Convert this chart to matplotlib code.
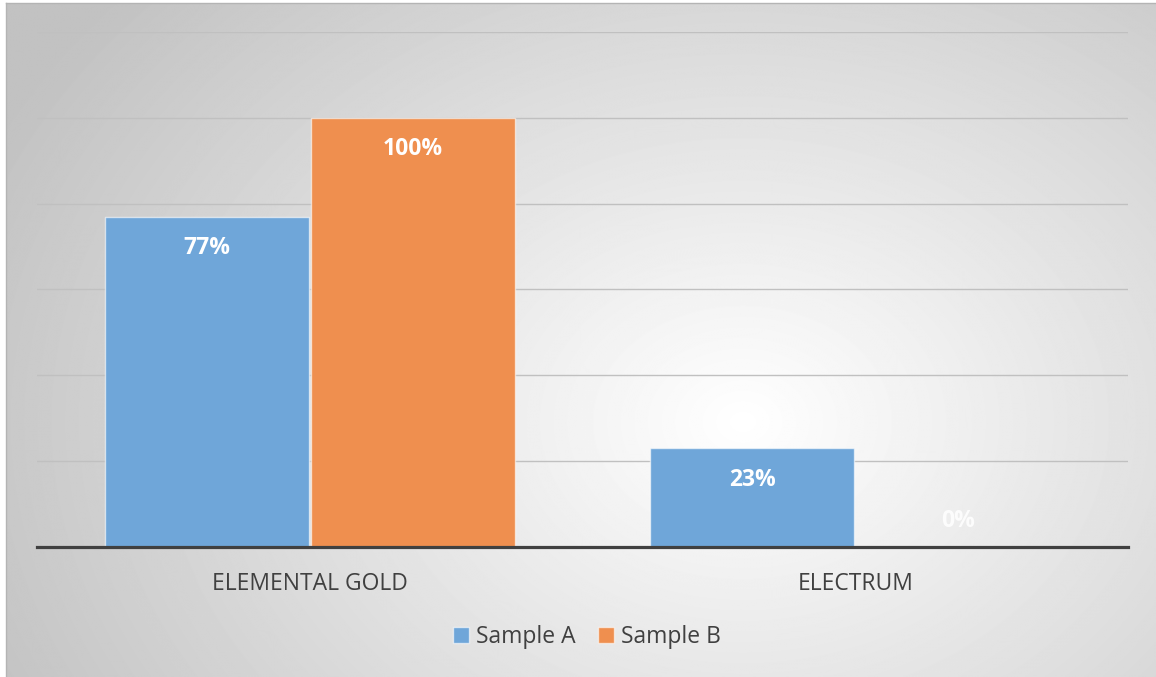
import numpy as np
import matplotlib.pyplot as plt
from matplotlib.patches import Patch

categories = ["ELEMENTAL GOLD", "ELECTRUM"]
series_names = ["Sample A", "Sample B"]
sample_a = [0.77, 0.23]
sample_b = [1.00, 0.00]
colors = ["#6fa6d9", "#ef8f4f"]

plt.rcParams['font.family'] = ['Open Sans', 'DejaVu Sans']

W, H = 1156, 677
fig = plt.figure(figsize=(W / 100, H / 100), dpi=100)
fig.patch.set_facecolor("white")

# soft grey background, lighter towards the middle-right
bg = fig.add_axes([6 / W, 0, 1 - 6 / W, 1 - 3 / H])
yy, xx = np.mgrid[0:H, 0:W]
r = np.sqrt(((xx - 740) / 620.0) ** 2 + ((yy - 420) / 480.0) ** 2)
shade = 1.0 - 0.24 * np.clip(r, 0, 1.35) / 1.35
bg.imshow(shade, cmap="gray", vmin=0, vmax=1, aspect="auto", interpolation="bilinear")
bg.set_axis_off()
# thin frame line at the top and left edges
fig.add_artist(plt.Line2D([6 / W, 1], [1 - 3 / H, 1 - 3 / H], color="#b4b4b4", lw=1))
fig.add_artist(plt.Line2D([6 / W, 6 / W], [0, 1 - 3 / H], color="#b4b4b4", lw=1))

ax = fig.add_axes([37 / W, 1 - 547 / H, 1091 / W, 515 / H])
ax.set_facecolor("none")
x = np.arange(len(categories))
bw = 0.374
step = 0.378

ax.set_ylim(0, 1.2)
ax.set_xlim(-0.5, 1.5)
ax.set_yticks(np.arange(0.2, 1.21, 0.2))
ax.yaxis.grid(True, color="#c0c0c0", lw=1)
ax.set_axisbelow(True)
ax.tick_params(axis="y", left=False, labelleft=False)
ax.tick_params(axis="x", bottom=False, pad=14.5, labelsize=16.5, labelcolor="#404040")
ax.set_xticks(x)
ax.set_xticklabels(categories)
for s in ["top", "right", "left"]:
    ax.spines[s].set_visible(False)
ax.spines["bottom"].set_color("#404040")
ax.spines["bottom"].set_linewidth(2.3)
ax.spines["bottom"].set_zorder(5)

for i, (vals, c) in enumerate(zip([sample_a, sample_b], colors)):
    pos = x + (i - 0.5) * step
    ax.bar(pos, vals, bw, color=c, edgecolor=(1, 1, 1, 0.6), lw=1, zorder=3)
    for px, v in zip(pos, vals):
        if v > 0:
            ax.annotate(f"{v:.0%}", (px, v), xytext=(0, -22.5), textcoords="offset points",
                        ha="center", va="center", color="white", fontsize=16.5,
                        fontweight="bold", zorder=6)
        else:
            ax.annotate(f"{v:.0%}", (px, v), xytext=(0, 19), textcoords="offset points",
                        ha="center", va="center", color="white", alpha=0.85,
                        fontsize=16.5, fontweight="bold", zorder=6)

handles = [Patch(facecolor=c, edgecolor=(1, 1, 1, 0.6)) for c in colors]
fig.legend(handles, series_names, loc="center", bbox_to_anchor=(587 / W, 1 - 637 / H),
           ncol=2, frameon=False, fontsize=16.5, labelcolor="#404040",
           handlelength=0.7, handleheight=0.7, handletextpad=0.3, columnspacing=1.0)

fig.savefig("out.png", dpi=100)
